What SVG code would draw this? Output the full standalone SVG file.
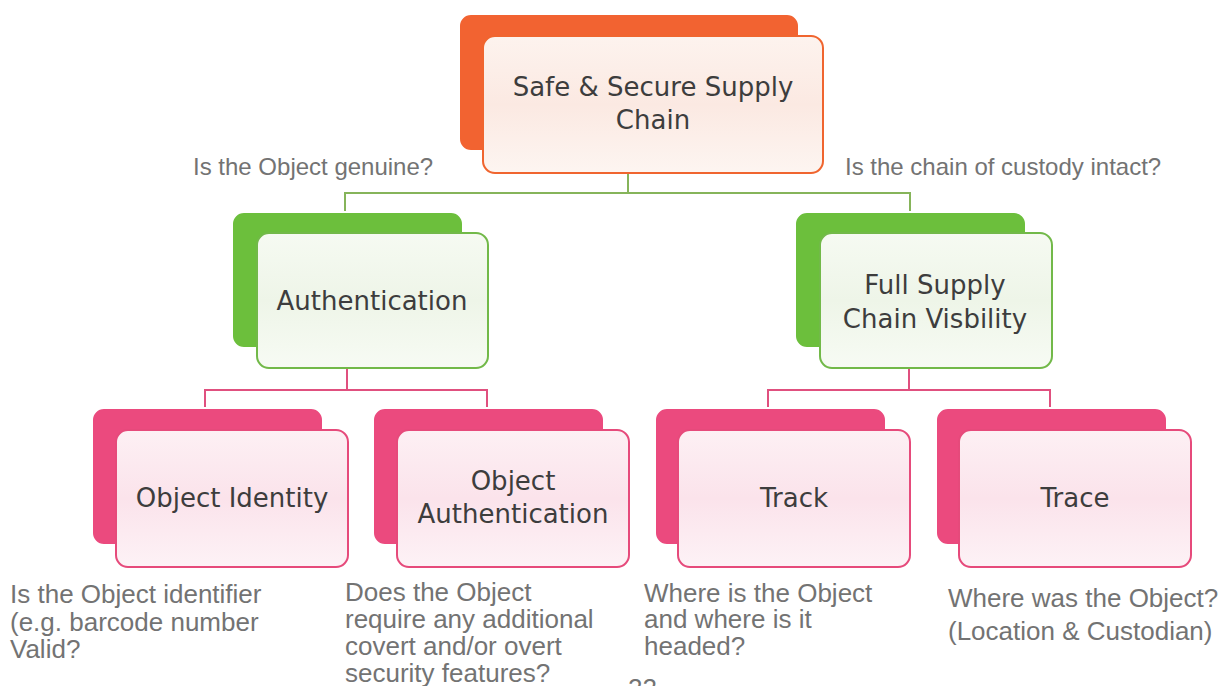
<svg xmlns="http://www.w3.org/2000/svg" width="1232" height="686" viewBox="0 0 1232 686">
<defs>
<linearGradient id="gO" x1="0" y1="0" x2="0" y2="1"><stop offset="0" stop-color="#fdf3ee"/><stop offset="0.5" stop-color="#fbe9e2"/><stop offset="1" stop-color="#fdf5f1"/></linearGradient>
<linearGradient id="gG" x1="0" y1="0" x2="0" y2="1"><stop offset="0" stop-color="#f6faf2"/><stop offset="0.5" stop-color="#eef5e8"/><stop offset="1" stop-color="#f7fbf4"/></linearGradient>
<linearGradient id="gP" x1="0" y1="0" x2="0" y2="1"><stop offset="0" stop-color="#fdf0f4"/><stop offset="0.5" stop-color="#fbe3eb"/><stop offset="1" stop-color="#fdf2f6"/></linearGradient>
<style>
.bo{fill:#f26331;stroke:#ffffff;stroke-width:2}
.fo{fill:url(#gO);stroke:#f0652f;stroke-width:2}
.bg{fill:#6cbf3c;stroke:#ffffff;stroke-width:2}
.fg{fill:url(#gG);stroke:#72b949;stroke-width:2}
.bp{fill:#eb4a7e;stroke:#ffffff;stroke-width:2}
.fp{fill:url(#gP);stroke:#e64a7b;stroke-width:2}
.nt{font-family:"DejaVu Sans",Verdana,sans-serif;font-size:26px;fill:#3d3d3d;text-anchor:middle}
.lb{font-family:"Liberation Sans",Arial,sans-serif;font-size:24px;fill:#737373}
.bt{font-family:"Liberation Sans",Arial,sans-serif;font-size:26px;fill:#737373}
.cg{fill:none;stroke:#86b45a;stroke-width:2}
.cp{fill:none;stroke:#e0507f;stroke-width:2}
</style>
</defs>
<g id="connectors">
<path class="cg" d="M628 173 V193 M345 213 V193 H910 V213"/>
<path class="cp" d="M347 368 V390 M205 409 V390 H487 V409"/>
<path class="cp" d="M909 368 V390 M768 409 V390 H1050 V409"/>
</g>
<g id="node-root">
<rect class="bo" x="459" y="14" width="340" height="137" rx="12"/>
<rect class="fo" x="483" y="36" width="340" height="137" rx="12"/>
<text class="nt" x="653" y="96">Safe &amp; Secure Supply</text>
<text class="nt" x="653" y="129">Chain</text>
</g>
<g id="node-authentication">
<rect class="bg" x="232" y="212" width="231" height="136" rx="12"/>
<rect class="fg" x="257" y="233" width="231" height="135" rx="12"/>
<text class="nt" x="372" y="310">Authentication</text>
</g>
<g id="node-visibility">
<rect class="bg" x="795" y="212" width="231" height="136" rx="12"/>
<rect class="fg" x="820" y="233" width="232" height="135" rx="12"/>
<text class="nt" x="935" y="294">Full Supply</text>
<text class="nt" x="935" y="328">Chain Visbility</text>
</g>
<g id="node-object-identity">
<rect class="bp" x="92" y="408" width="231" height="137" rx="12"/>
<rect class="fp" x="116" y="430" width="232" height="137" rx="12"/>
<text class="nt" x="232" y="507">Object Identity</text>
</g>
<g id="node-object-authentication">
<rect class="bp" x="373" y="408" width="231" height="137" rx="12"/>
<rect class="fp" x="397" y="430" width="232" height="137" rx="12"/>
<text class="nt" x="513" y="490">Object</text>
<text class="nt" x="513" y="523">Authentication</text>
</g>
<g id="node-track">
<rect class="bp" x="655" y="408" width="231" height="137" rx="12"/>
<rect class="fp" x="678" y="430" width="232" height="137" rx="12"/>
<text class="nt" x="794" y="507">Track</text>
</g>
<g id="node-trace">
<rect class="bp" x="936" y="408" width="231" height="137" rx="12"/>
<rect class="fp" x="959" y="430" width="232" height="137" rx="12"/>
<text class="nt" x="1075" y="507">Trace</text>
</g>
<g id="labels">
<text class="lb" x="193" y="175">Is the Object genuine?</text>
<text class="lb" x="845" y="175">Is the chain of custody intact?</text>
<text class="bt" x="10" y="603">Is the Object identifier</text>
<text class="bt" x="10" y="631">(e.g. barcode number</text>
<text class="bt" x="10" y="658">Valid?</text>
<text class="bt" x="345" y="601">Does the Object</text>
<text class="bt" x="345" y="628">require any additional</text>
<text class="bt" x="345" y="655">covert and/or overt</text>
<text class="bt" x="345" y="682">security features?</text>
<text class="bt" x="644" y="602">Where is the Object</text>
<text class="bt" x="644" y="628">and where is it</text>
<text class="bt" x="644" y="655">headed?</text>
<text class="bt" x="948" y="607">Where was the Object?</text>
<text class="bt" x="948" y="640">(Location &amp; Custodian)</text>
<text class="bt" x="628" y="697">22</text>
</g>
</svg>
